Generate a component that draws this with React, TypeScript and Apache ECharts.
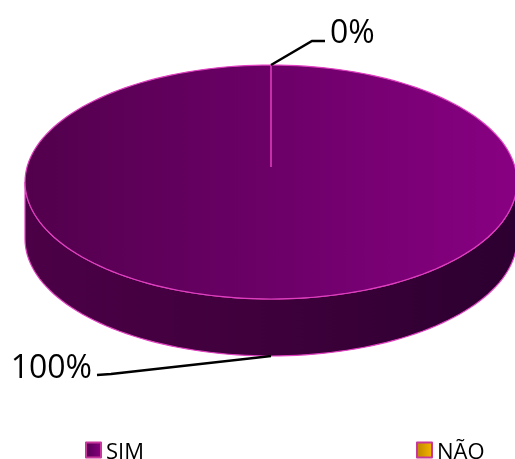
import React, { useEffect, useRef } from "react";
import * as echarts from "echarts";

const categories = ["SIM", "NÃO"];
const values = [100, 0];

const W = 515;
const H = 459;
const CX = 271;
const CY = 182;
const RX = 246;
const RY = 117;
const DEPTH = 57;
const PIVOT_DY = -15;
const EDGE = "#e040c0";
const FONT = '"Open Sans", "Noto Sans", sans-serif';

const topGrad = {
  type: "linear", x: 0, y: 0, x2: 1, y2: 0,
  colorStops: [
    { offset: 0, color: "#52004c" },
    { offset: 0.5, color: "#6c0068" },
    { offset: 1, color: "#880082" },
  ],
};
const sideGrad = {
  type: "linear", x: 0, y: 0, x2: 1, y2: 0,
  colorStops: [
    { offset: 0, color: "#4c0047" },
    { offset: 0.5, color: "#3e003b" },
    { offset: 1, color: "#2c0030" },
  ],
};
const legendFills = [
  {
    type: "linear", x: 0, y: 0, x2: 1, y2: 0,
    colorStops: [
      { offset: 0, color: "#560052" },
      { offset: 1, color: "#84007e" },
    ],
  },
  {
    type: "linear", x: 0, y: 0, x2: 1, y2: 0,
    colorStops: [
      { offset: 0, color: "#c08800" },
      { offset: 1, color: "#f4b400" },
    ],
  },
];

const rad = (d: number) => (d * Math.PI) / 180;
const pt = (deg: number, dy: number) => [
  CX + RX * Math.sin(rad(deg)),
  CY - RY * Math.cos(rad(deg)) + dy,
];
const arc = (a0: number, a1: number, dy: number) => {
  const pts: number[][] = [];
  const n = Math.max(2, Math.ceil((a1 - a0) / 2));
  for (let i = 0; i <= n; i++) pts.push(pt(a0 + ((a1 - a0) * i) / n, dy));
  return pts;
};

export default function App() {
  const ref = useRef<HTMLDivElement>(null);
  useEffect(() => {
    if (!ref.current) return;
    const chart = echarts.init(ref.current, undefined, { renderer: "svg" });
    const total = values.reduce((a, b) => a + b, 0);
    const starts: number[] = [];
    let acc = 0;
    values.forEach((v) => {
      starts.push((acc / total) * 360);
      acc += v;
    });

    const renderItem = (params: any) => {
      const i = params.dataIndex;
      const a0 = starts[i];
      const a1 = a0 + (values[i] / total) * 360;
      const pivot = [CX, CY + PIVOT_DY];
      const children: any[] = [];
      const span = a1 - a0;
      // side (front half: 90..270)
      const s = Math.max(a0, 90);
      const e = Math.min(a1, 270);
      if (e > s) {
        const top = arc(s, e, 0);
        const bottom = arc(s, e, DEPTH).reverse();
        children.push({
          type: "polygon",
          shape: { points: top.concat(bottom) },
          style: { fill: sideGrad, stroke: EDGE, lineWidth: 1.2 },
        });
      }
      // top face
      if (span > 0) {
        const pts = span >= 359.999 ? arc(0, 360, 0) : [pivot].concat(arc(a0, a1, 0));
        children.push({
          type: "polygon",
          shape: { points: pts },
          style: { fill: topGrad, stroke: EDGE, lineWidth: 1.2 },
        });
      }
      // boundary line
      const b = pt(a0, 0);
      children.push({
        type: "line",
        shape: { x1: pivot[0], y1: pivot[1], x2: b[0], y2: b[1] },
        style: { stroke: EDGE, lineWidth: 1 },
      });
      // label
      const mid = (a0 + a1) / 2;
      const front = -Math.cos(rad(mid)) > 0;
      const pct = Math.round((values[i] / total) * 100) + "%";
      if (front) {
        const an = pt(mid, DEPTH);
        const p1 = [an[0] - 160, an[1] + 18];
        const p2 = [an[0] - 174, an[1] + 19];
        children.push({
          type: "polyline",
          shape: { points: [an, p1, p2] },
          style: { stroke: "#000", lineWidth: 2.5, fill: "none" },
        });
        children.push({
          type: "text",
          style: {
            text: pct, x: p2[0] - 5, y: p2[1] - 10, fill: "#000",
            font: `32px ${FONT}`, align: "right", verticalAlign: "middle",
          },
        });
      } else {
        const an = pt(mid, 0);
        const p1 = [an[0] + 41, an[1] - 24];
        const p2 = [an[0] + 54, an[1] - 24];
        children.push({
          type: "polyline",
          shape: { points: [an, p1, p2] },
          style: { stroke: "#000", lineWidth: 2.5, fill: "none" },
        });
        children.push({
          type: "text",
          style: {
            text: pct, x: p2[0] + 5, y: p2[1] - 11, fill: "#000",
            font: `32px ${FONT}`, align: "left", verticalAlign: "middle",
          },
        });
      }
      return { type: "group", children };
    };

    chart.setOption({
      animation: false,
      legend: {
        data: categories,
        left: 85,
        top: 439,
        padding: 0,
        icon: "rect",
        itemWidth: 15,
        itemHeight: 15,
        itemGap: 272,
        textStyle: { fontSize: 22, lineHeight: 18, color: "#000", fontFamily: FONT },
      },
      series: [
        {
          type: "custom",
          coordinateSystem: "none",
          renderItem,
          data: values,
          silent: true,
        },
        {
          type: "pie",
          radius: [0, 0],
          center: [-100, -100],
          silent: true,
          label: { show: false },
          labelLine: { show: false },
          data: categories.map((c, i) => ({
            name: c,
            value: values[i],
            itemStyle: { color: legendFills[i], borderColor: "#c8389c", borderWidth: 2 },
          })),
        },
      ],
    });
    return () => chart.dispose();
  }, []);
  return (
    <div
      ref={ref}
      style={{ position: "fixed", left: 0, top: 0, width: W, height: H }}
    />
  );
}
